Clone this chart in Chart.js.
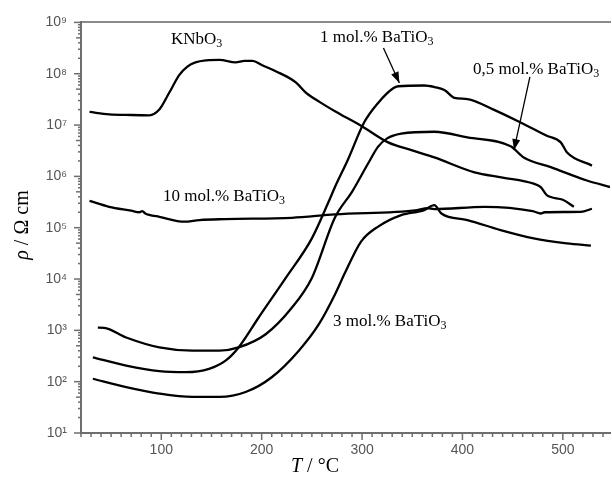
<!DOCTYPE html>
<html><head><meta charset="utf-8">
<script src="https://cdn.jsdelivr.net/npm/chart.js@4"></script>
<style>html,body{margin:0;padding:0;background:#fff}</style>
</head><body>
<canvas id="c" width="612" height="481"></canvas>
<script>
// ---------------- data (T in °C, rho in Ohm cm) ----------------
const tempKNbO3 = [28.5,48,70,88,98,108,118,126,134,145,158,174,183,191,200,214,234,244,258,273,299,326,350,372,412,440,471,478,484,500,511];
const rhoKNbO3  = [1.8e7,1.62e7,1.57e7,1.55e7,2.0e7,4.3e7,9.5e7,1.38e8,1.66e8,1.82e8,1.86e8,1.66e8,1.78e8,1.78e8,1.48e8,1.12e8,6.8e7,4.3e7,2.8e7,1.86e7,9.7e6,4.6e6,3.2e6,2.34e6,1.2e6,9.5e5,7.2e5,6.2e5,4.3e5,3.5e5,2.55e5];

const temp1mol = [31.8,65,98,124.5,147.6,164,177,197,224,250,267,273,286,302,316,331,336,362,372,382,392,405,431,458,484,498,504,529];
const rho1mol  = [299,206,160,153,178,257,465,1780,1.05e4,6.2e4,3.3e5,6.2e5,2.14e6,1.12e7,2.7e7,5.2e7,5.7e7,5.9e7,5.5e7,4.8e7,3.4e7,3.2e7,2.0e7,1.12e7,6.2e6,4.6e6,2.95e6,1.62e6];

const temp05mol = [36.8,43,65,98,131,158,177,204,230,250,273,290,306,316,325,339,372,405,448,461,488,524,547];
const rho05mol  = [1130,1120,725,465,402,402,465,841,2750,1.05e4,1.58e5,5.0e5,1.78e6,3.8e6,5.5e6,6.8e6,7.4e6,5.75e6,3.85e6,2.34e6,1.51e6,8.3e5,6.2e5];

const temp3mol = [31.8,65,98,131,158,184,210,237,257,273,283,299,316,339,362,372,379,405,438,471,504,528];
const rho3mol  = [114,78.5,58.5,50.4,50.4,62.8,122,402,1318,5000,1.32e4,5.36e4,1.05e5,1.76e5,2.2e5,2.75e5,1.89e5,1.41e5,9.0e4,6.2e4,4.97e4,4.49e4];

const temp10mol = [28.5,48,70,78,81,84,88,98,123,138,164,230,273,355,365,372,422,470,478,482,518,529];
const rho10mol  = [3.33e5,2.55e5,2.14e5,2.0e5,2.1e5,1.9e5,1.78e5,1.63e5,1.31e5,1.41e5,1.47e5,1.56e5,1.81e5,2.2e5,2.4e5,2.3e5,2.55e5,2.1e5,1.89e5,2.0e5,2.04e5,2.34e5];

const xTickValues = [20,30,40,50,60,70,80,90,100,110,120,130,140,150,160,170,180,190,200,210,220,230,240,250,260,270,280,290,300,310,320,330,340,350,360,370,380,390,400,410,420,430,440,450,460,470,480,490,500,510,520,530,540];
const xTickLabels = ['100','200','300','400','500'];
const yTickValues = [1e1,1e2,1e3,1e4,1e5,1e6,1e7,1e8,1e9];
const yTickLabels = ['10\u00B9','10\u00B2','10\u00B3','10\u2074','10\u2075','10\u2076','10\u2077','10\u2078','10\u2079'];

const seriesNames = ['KNbO3','1 mol.% BaTiO3','0,5 mol.% BaTiO3','3 mol.% BaTiO3','10 mol.% BaTiO3'];
// ----------------------------------------------------------------

function pts(t, r){ return t.map((v,i)=>({x:v, y:r[i]})); }

const axisColor = '#6e6e6e';
const labelColor = '#555';

function drawRich(ctx, parts, x, y, size){
  let cx = x;
  for (const p of parts){
    if (p.sub){
      ctx.font = Math.round(size*0.68) + 'px "Liberation Serif"';
      ctx.fillText(p.t, cx, y + size*0.22);
    } else {
      ctx.font = (p.it ? 'italic ' : '') + size + 'px "Liberation Serif"';
      ctx.fillText(p.t, cx, y);
    }
    cx += ctx.measureText(p.t).width;
  }
  return cx - x;
}
function richWidth(ctx, parts, size){
  let w = 0;
  for (const p of parts){
    ctx.font = p.sub ? Math.round(size*0.68) + 'px "Liberation Serif"' : (p.it ? 'italic ' : '') + size + 'px "Liberation Serif"';
    w += ctx.measureText(p.t).width;
  }
  return w;
}

function arrow(ctx, x1, y1, x2, y2){
  ctx.beginPath(); ctx.moveTo(x1,y1); ctx.lineTo(x2,y2); ctx.lineWidth = 1.3; ctx.stroke();
  const a = Math.atan2(y2-y1, x2-x1), L = 11, W = 4;
  ctx.beginPath();
  ctx.moveTo(x2, y2);
  ctx.lineTo(x2 - L*Math.cos(a) + W*Math.sin(a), y2 - L*Math.sin(a) - W*Math.cos(a));
  ctx.lineTo(x2 - L*Math.cos(a) - W*Math.sin(a), y2 - L*Math.sin(a) + W*Math.cos(a));
  ctx.closePath(); ctx.fill();
}

const decor = {
  id: 'decor',
  afterDraw(chart){
    const {ctx, scales, chartArea: a} = chart;
    const x = scales.x, y = scales.y;
    ctx.save();
    ctx.strokeStyle = axisColor; ctx.lineWidth = 1.5;
    for (const t of xTickValues){
      const px = x.getPixelForValue(t);
      const len = (t % 100 === 0) ? 7 : 4;
      ctx.beginPath(); ctx.moveTo(px, a.bottom); ctx.lineTo(px, a.bottom + len); ctx.stroke();
    }
    for (let e = 1; e <= 9; e++){
      for (let m = 1; m <= 9; m++){
        if (e === 9 && m > 1) break;
        const py = y.getPixelForValue(m * Math.pow(10, e));
        const len = m === 1 ? 7 : (m === 5 ? 5 : 3);
        ctx.beginPath(); ctx.moveTo(a.left - len, py); ctx.lineTo(a.left, py); ctx.stroke();
      }
    }
    ctx.fillStyle = '#000'; ctx.textBaseline = 'middle';
    const size = 20;
    const xt = [{t:'T', it:true},{t:' / \u00B0C'}];
    const wx = richWidth(ctx, xt, size);
    drawRich(ctx, xt, 315 - wx/2, 467, size);
    ctx.save();
    ctx.translate(23, 225); ctx.rotate(-Math.PI/2);
    const yt = [{t:'\u03C1', it:true},{t:' / \u03A9 cm'}];
    const wy = richWidth(ctx, yt, size);
    drawRich(ctx, yt, -wy/2, 0, size);
    ctx.restore();
    const ls = 17;
    drawRich(ctx, [{t:'KNbO'},{t:'3',sub:true}], 171, 40, ls);
    drawRich(ctx, [{t:'1 mol.% BaTiO'},{t:'3',sub:true}], 320, 38, ls);
    drawRich(ctx, [{t:'0,5 mol.% BaTiO'},{t:'3',sub:true}], 473, 70, ls);
    drawRich(ctx, [{t:'10 mol.% BaTiO'},{t:'3',sub:true}], 163, 197, ls);
    drawRich(ctx, [{t:'3 mol.% BaTiO'},{t:'3',sub:true}], 333, 322, ls);
    ctx.strokeStyle = '#000'; ctx.fillStyle = '#000';
    arrow(ctx, x.getPixelForValue(321.3), y.getPixelForValue(Math.pow(10,8.50)), x.getPixelForValue(337.2), y.getPixelForValue(Math.pow(10,7.82)));
    arrow(ctx, x.getPixelForValue(467.2), y.getPixelForValue(Math.pow(10,7.94)), x.getPixelForValue(451.3), y.getPixelForValue(Math.pow(10,6.51)));
    ctx.restore();
  }
};

const lineStyle = {borderColor:'#000', borderWidth:2.3, pointRadius:0, fill:false, tension:0.35, cubicInterpolationMode:'monotone'};

new Chart(document.getElementById('c'), {
  type: 'line',
  data: {
    datasets: [
      Object.assign({label: seriesNames[0], data: pts(tempKNbO3, rhoKNbO3)}, lineStyle),
      Object.assign({label: seriesNames[1], data: pts(temp1mol, rho1mol)}, lineStyle),
      Object.assign({label: seriesNames[2], data: pts(temp05mol, rho05mol)}, lineStyle),
      Object.assign({label: seriesNames[3], data: pts(temp3mol, rho3mol)}, lineStyle),
      Object.assign({label: seriesNames[4], data: pts(temp10mol, rho10mol)}, lineStyle)
    ]
  },
  options: {
    responsive: false, animation: false,
    layout: {padding: 0},
    plugins: {legend: {display: false}, tooltip: {enabled: false}},
    scales: {
      x: {
        type: 'linear', position: 'bottom', min: 20, max: 547,
        afterBuildTicks: s => { s.ticks = xTickValues.map(v => ({value: v})); },
        afterFit: s => { s.height = 48; },
        ticks: {autoSkip: false, maxRotation: 0, padding: 9, color: labelColor,
                font: {family: 'Liberation Sans', size: 14},
                callback: v => (xTickLabels.includes(String(v)) ? String(v) : '')},
        grid: {display: false, drawTicks: false},
        border: {display: true, color: axisColor, width: 2}
      },
      xTop: {
        type: 'linear', position: 'top', min: 20, max: 547,
        afterFit: s => { s.height = 19; },
        ticks: {display: false},
        grid: {display: false, drawTicks: false},
        border: {display: true, color: '#8a8a8a', width: 2}
      },
      y: {
        type: 'logarithmic', min: 10, max: 1e9,
        afterBuildTicks: s => { s.ticks = yTickValues.map(v => ({value: v})); },
        afterFit: s => { s.width = 81; },
        ticks: {autoSkip: false, padding: 14, color: labelColor,
                font: {family: 'Liberation Sans', size: 14},
                callback: (v) => { const i = yTickValues.indexOf(v); return i >= 0 ? yTickLabels[i] : ''; }},
        grid: {display: false, drawTicks: false},
        border: {display: true, color: axisColor, width: 2}
      }
    }
  },
  plugins: [decor]
});
</script>
</body></html>
